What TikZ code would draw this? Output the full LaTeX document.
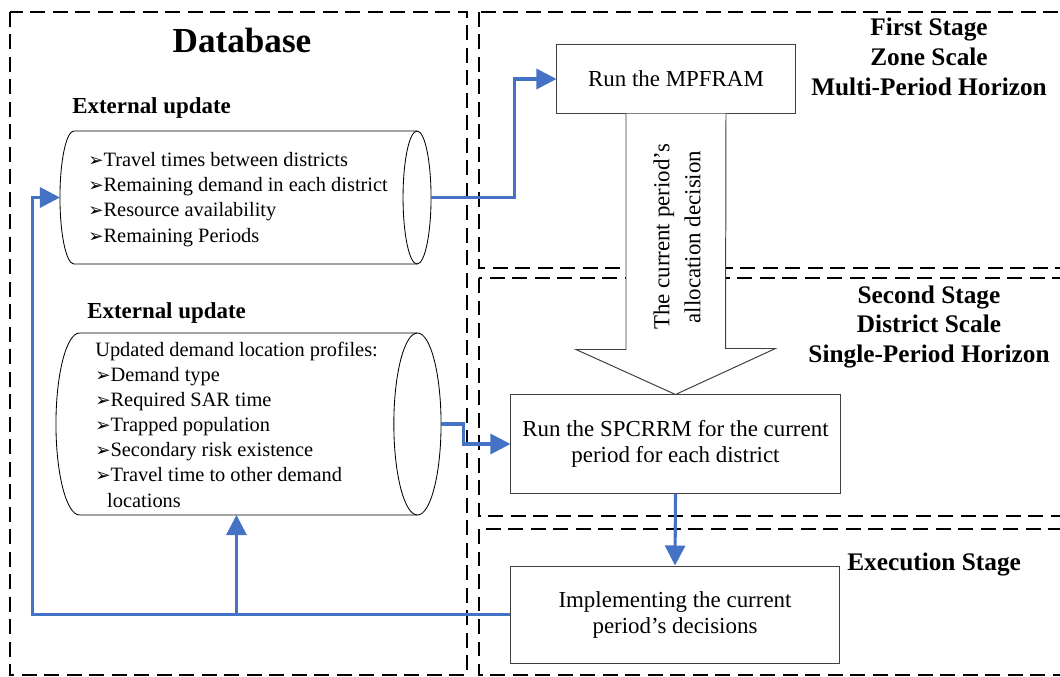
\documentclass[tikz,border=0pt]{standalone}
\usepackage{fontspec}
\setmainfont{Liberation Serif}
\newfontfamily\symfont{DejaVu Sans}
\usetikzlibrary{arrows.meta,calc}
\definecolor{flowblue}{HTML}{4472C4}

\begin{document}
\begin{tikzpicture}[x=0.025cm,y=-0.025cm,
  stagebox/.style={draw=black,line width=1.4pt,dash pattern=on 10.5pt off 5.5pt},
  procbox/.style={rectangle,draw=black!75,line width=0.7pt,fill=white,align=center,font=\fontsize{16.3}{18.5}\selectfont},
  storeline/.style={draw=black,line width=0.6pt},
  listtext/.style={anchor=west,align=left,inner sep=0,font=\fontsize{14.5}{17.9}\selectfont},
  flow/.style={draw=flowblue,line width=2.2pt,-{Triangle[width=0.5cm,length=0.5cm]}},
  title/.style={font=\bfseries\fontsize{18}{21.3}\selectfont,align=center,inner sep=0},
  ]
  \def\arrowitem{{\symfont\fontsize{13}{13}\selectfont ➢}}
  % lying cylinder: name, x, y, width, height, end radius
  \def\store#1#2#3#4#5#6{
    \node[minimum width=#4,minimum height=#5,inner sep=0,outer sep=0] (#1) at (#2,#3){};
    \draw[storeline,fill=white] ([xshift=#6]#1.north west) -- ([xshift=-#6]#1.north east)
      arc[start angle=90,end angle=-90,x radius=#6,y radius=#5/2] -- ([xshift=#6]#1.south west)
      arc[start angle=270,end angle=90,x radius=#6,y radius=#5/2] -- cycle;
    \draw[storeline] ([xshift=-#6]#1.north east) arc[start angle=90,end angle=270,x radius=#6,y radius=#5/2];
  }

  \useasboundingbox (0,0) rectangle (1060,677);
  \clip (0,0) rectangle (1060,677);

  %frames
  \draw[stagebox] (10,12) rectangle (467,675);
  \draw[stagebox] (479,12) rectangle (1075,268);
  \draw[stagebox] (479,278) rectangle (1075,516);
  \draw[stagebox] (479,529) rectangle (1075,675);

  %DATABASE
  \node[font=\bfseries\fontsize{25}{30}\selectfont] (db) at (242,40){Database};

  \node[anchor=west,inner sep=0,font=\bfseries\fontsize{16.3}{19}\selectfont] (upd1) at (72,108){External update};
  \store{ext1}{245.5}{197.5}{9.275cm}{3.325cm}{0.35cm}
  \node[listtext] (ext1txt) at (88,199.5){\arrowitem Travel times between districts\\
    \arrowitem Remaining demand in each district\\
    \arrowitem Resource availability\\
    \arrowitem Remaining Periods};

  \node[anchor=west,inner sep=0,font=\bfseries\fontsize{16.3}{19}\selectfont] (upd2) at (87,313){External update};
  \store{ext2}{248.5}{424}{9.625cm}{4.55cm}{0.59cm}
  \node[listtext] (ext2txt) at (95,424.5){Updated demand location profiles:\\
    \arrowitem Demand type\\
    \arrowitem Required SAR time\\
    \arrowitem Trapped population\\
    \arrowitem Secondary risk existence\\
    \arrowitem Travel time to other demand\\
    \hspace*{8.5pt}locations};

  %STAGES
  \node[title] (st1) at (929,57){First Stage\\Zone Scale\\Multi-Period Horizon};
  \node[title] (st2) at (929,327){Second Stage\\District Scale\\Single-Period Horizon};
  \node[title,anchor=west] (st3) at (847,565){Execution Stage};

  \node[procbox,minimum width=5.95cm,minimum height=1.7cm] (mpf) at (676,79){Run the MPFRAM};
  \node[procbox,minimum width=8.225cm,minimum height=2.45cm] (spc) at (675.5,444){Run the SPCRRM for the current\\period for each district};
  \node[procbox,minimum width=8.2cm,minimum height=2.425cm] (impl) at (675,614.5){Implementing the current\\period’s decisions};

  %allocation arrow
  \draw[draw=black!75,line width=0.7pt,fill=white] ($(mpf.south)+(-50,0)$) -- ++(0,236) -- ++(-50,0)
    -- (spc.north) -- ++(100,-46) -- ++(-50,0) -- ($(mpf.south)+(50,0)$);
  \node[rotate=90,align=center,font=\fontsize{16.3}{22}\selectfont] (alloc) at (677,237){The current period’s\\allocation decision};

  %flows
  \draw[flow] (ext1.east) -- ++(83,0) |- (mpf.west);
  \draw[flow] (ext2.east) -- ++(22,0) |- (spc.west);
  \draw[flow] (spc.south) -- (impl.north);
  \draw[flow] (impl.west) -- ++(-478,0) |- (ext1.west);
  \coordinate (fb) at ($(impl.west)+(-274,0)$);
  \draw[flow] (fb) -- (fb |- ext2.south);

\end{tikzpicture}
\end{document}
